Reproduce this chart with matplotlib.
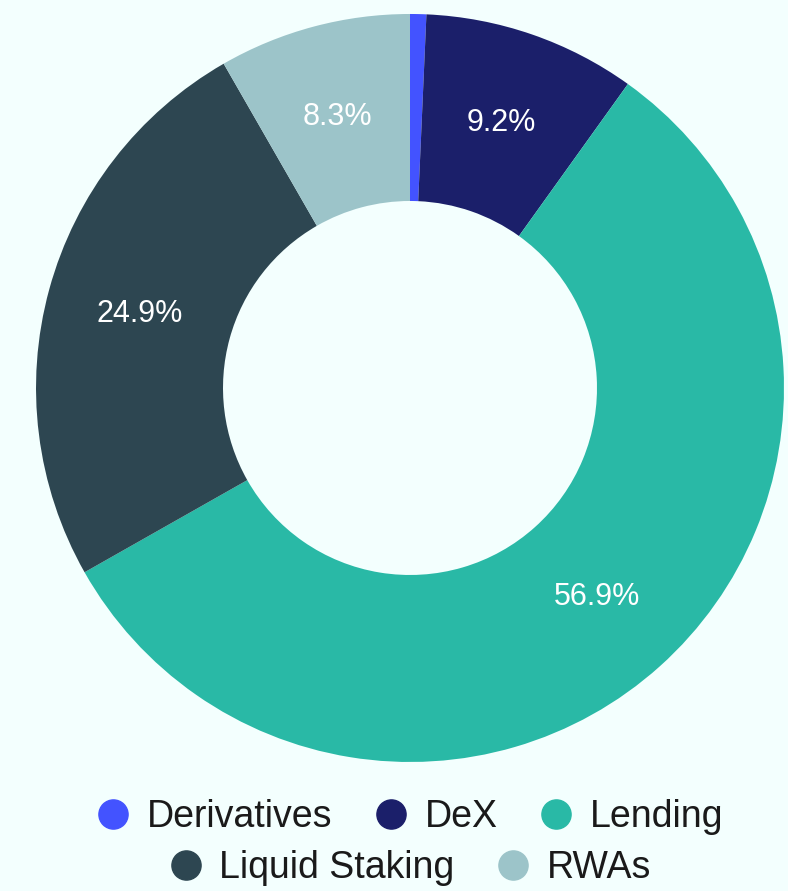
import matplotlib.pyplot as plt
from matplotlib.lines import Line2D

plt.rcParams['font.family'] = ['Liberation Sans', 'DejaVu Sans']

# TVL share by category (%)
categories = ['Derivatives', 'DeX', 'Lending', 'Liquid Staking', 'RWAs']
shares = [0.7, 9.2, 56.9, 24.9, 8.3]
colors = ['#4353ff', '#1b1f6a', '#29b9a6', '#2d4651', '#9cc4c9']
bg = '#f3fffe'

fig = plt.figure(figsize=(7.88, 8.91), dpi=100, facecolor=bg)
ax = fig.add_axes([0.0457, 0.1448, 0.9492, 0.8395])
ax.set_facecolor(bg)

wedges, texts = ax.pie(
    shares, colors=colors, startangle=90, counterclock=False,
    radius=1.0, wedgeprops=dict(width=0.5, linewidth=0))
ax.set_xlim(-1, 1)
ax.set_ylim(-1, 1)
ax.set_aspect('auto')
ax.axis('off')

# percentage labels in the middle of the ring, skipping tiny slices
import numpy as np
for w, v in zip(wedges, shares):
    if v < 1:
        continue
    ang = np.deg2rad((w.theta1 + w.theta2) / 2)
    ax.text(0.75 * np.cos(ang), 0.75 * np.sin(ang), f'{v:.1f}%',
            ha='center', va='center', color='white', fontsize=22)

def make_handles(idx):
    return [Line2D([], [], marker='o', linestyle='', markersize=21,
                   markerfacecolor=colors[i], markeredgecolor=colors[i])
            for i in idx]

rows = [[0, 1, 2], [3, 4]]
ys = [0.083, 0.026]
for idx, y in zip(rows, ys):
    leg = fig.legend(make_handles(idx), [categories[i] for i in idx],
                     loc='center', bbox_to_anchor=(0.52, y), ncol=len(idx),
                     frameon=False, fontsize=27, handletextpad=0.45,
                     columnspacing=1.1, handlelength=0.9)
    for t in leg.get_texts():
        t.set_color('#1a1a1a')

fig.savefig('out.png', dpi=100, facecolor=bg)
